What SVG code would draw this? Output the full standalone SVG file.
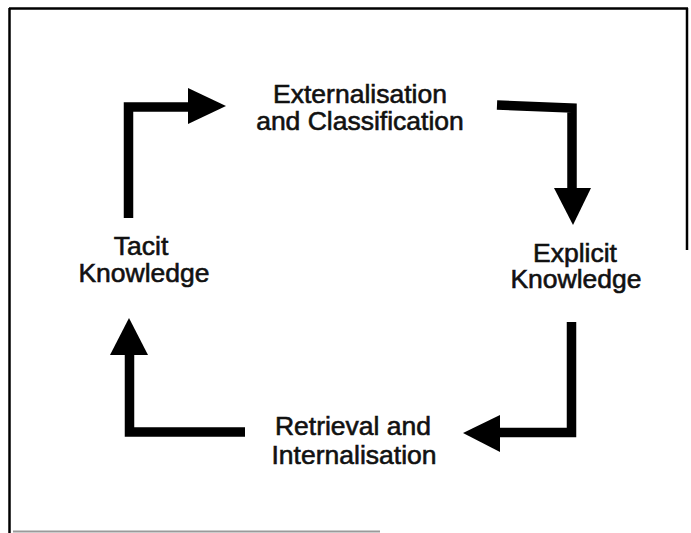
<svg xmlns="http://www.w3.org/2000/svg" width="691" height="533" viewBox="0 0 691 533">
  <style>
    .frame { stroke: #000; stroke-width: 2.5; fill: none; }
    .frame-faint { stroke: #9a9a9a; stroke-width: 2; fill: none; }
    .shaft { stroke: #000; stroke-width: 9.5; fill: none; stroke-linejoin: miter; stroke-linecap: butt; }
    .head { fill: #000; stroke: none; }
    .label { font-family: "Liberation Sans", Arial, sans-serif; font-size: 26.5px; fill: #111; stroke: #111; stroke-width: 0.6; text-anchor: middle; }
  </style>
  <rect width="691" height="533" fill="#fff"/>

  <!-- outer frame (partially faded edges) -->
  <g id="frame">
    <line class="frame" x1="9" y1="8.5" x2="688" y2="8.5"/>
    <line class="frame" x1="9.5" y1="8" x2="9.5" y2="533"/>
    <line class="frame" x1="687" y1="8" x2="687" y2="250"/>
    <line class="frame-faint" x1="13" y1="531.5" x2="380" y2="531.5"/>
  </g>

  <!-- nodes -->
  <g id="node-externalisation">
    <text class="label" x="360" y="103">Externalisation</text>
    <text class="label" x="360" y="130">and Classification</text>
  </g>
  <g id="node-explicit">
    <text class="label" x="575" y="262">Explicit</text>
    <text class="label" x="576" y="288">Knowledge</text>
  </g>
  <g id="node-retrieval">
    <text class="label" x="353" y="435">Retrieval and</text>
    <text class="label" x="354" y="464">Internalisation</text>
  </g>
  <g id="node-tacit">
    <text class="label" x="141" y="255">Tacit</text>
    <text class="label" x="144" y="282">Knowledge</text>
  </g>

  <!-- connectors: elbow arrows running clockwise -->
  <g id="connectors">
    <polyline class="shaft" points="128.5,218 128.5,107 190,107"/>
    <polygon class="head" points="188,88 226,106 188,124"/>

    <polyline class="shaft" points="497,105 572,108 572,190"/>
    <polygon class="head" points="554,188 591,188 573,225"/>

    <polyline class="shaft" points="571.5,322 571.5,432.5 498,432.5"/>
    <polygon class="head" points="500,415 463,433 500,452"/>

    <polyline class="shaft" points="245,432 129.5,432 129.5,353"/>
    <polygon class="head" points="110,355 129,318 148,355"/>
  </g>
</svg>
